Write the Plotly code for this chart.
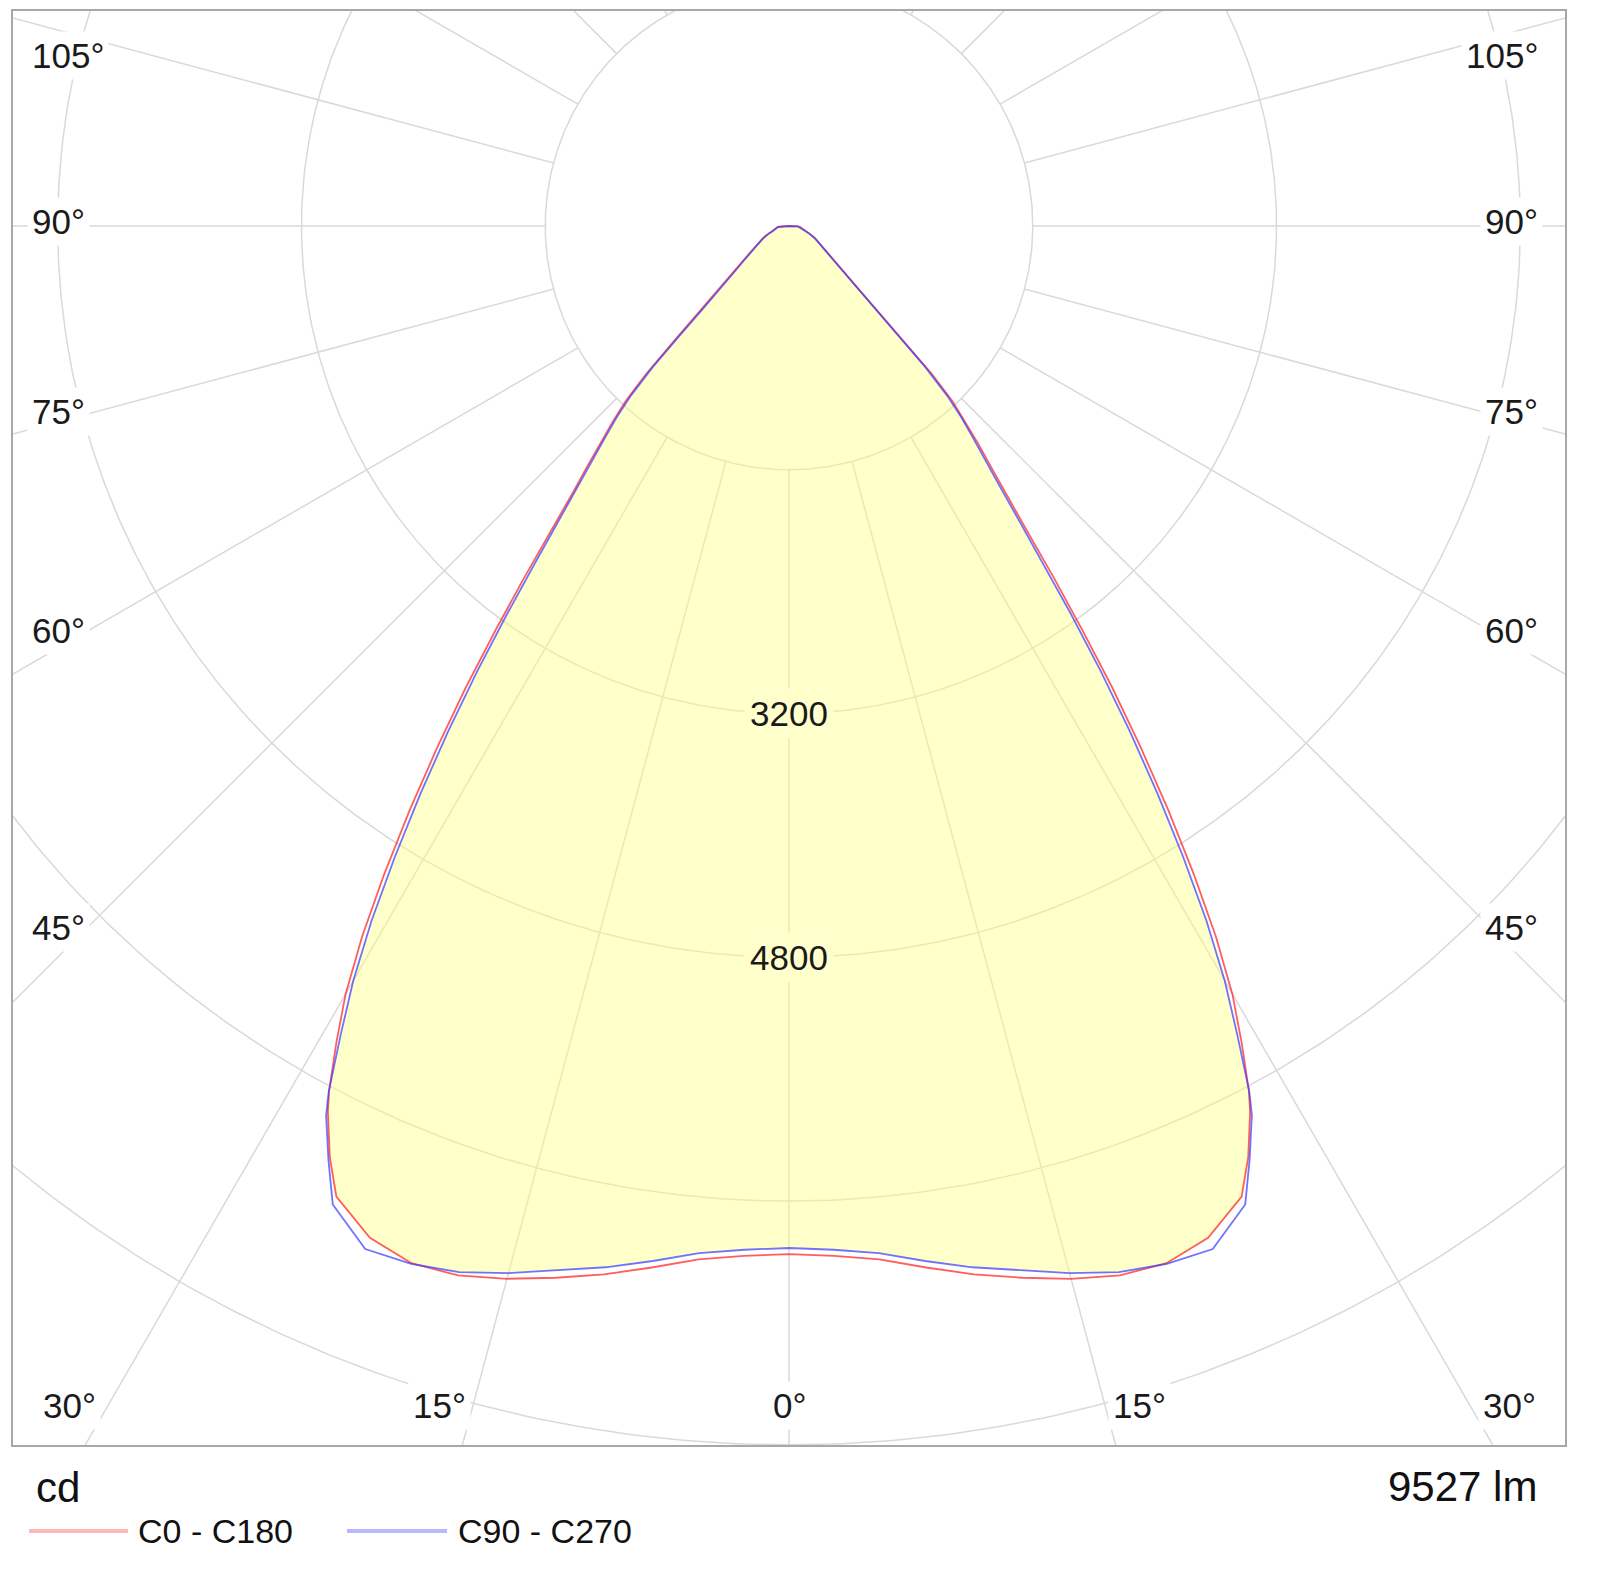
import numpy as np
import plotly.graph_objects as go

# ---------------- data ----------------
gamma_deg = [0, 2.5, 5, 7.5, 10, 12.5, 15, 17.5, 20, 22.5,
             25, 26.25, 27.5, 28,
             29, 30, 31, 32, 33, 34, 35, 36, 37, 38, 39, 40, 41, 42, 43, 44, 45, 46,
             47.5, 50,
             52.5, 55, 57.5, 60, 62.5, 65, 67.5, 70, 72.5, 75, 77.5, 80, 82.5, 85, 87.5, 90]
c0_c180 = [6748, 6766, 6808, 6895, 6987, 7071, 7154, 7222, 7245, 7188,
           7030, 6815, 6555, 6430,
           6128, 5820, 5440, 5010, 4570, 4130, 3700, 3270, 2880, 2530, 2260, 2060, 1890,
           1730, 1575, 1350, 1060, 830,
           640, 480,
           390, 322, 275, 240, 212, 188, 165, 142, 118, 102, 92, 85, 80, 74, 60, 0]
c90_c270 = [6708, 6726, 6768, 6852, 6940, 7020, 7115, 7200, 7250, 7268,
            7086, 6835, 6580, 6435,
            6070, 5720, 5320, 4880, 4440, 4000, 3570, 3150, 2770, 2450, 2200, 2010, 1840,
            1690, 1520, 1290, 1010, 800,
            620, 465,
            375, 310, 265, 232, 205, 182, 160, 137, 114, 98, 88, 82, 77, 71, 58, 0]
series_names = ["C0 - C180", "C90 - C270"]
grid_cd = [1600, 3200, 4800, 6400, 8000]
labelled_cd = [3200, 4800]
spoke_deg = list(range(0, 360, 15))
angle_labels = ["105°", "90°", "75°", "60°", "45°", "30°", "15°", "0°"]
flux_text = "9527 lm"
unit_text = "cd"

assert len(gamma_deg) == len(c0_c180) == len(c90_c270)

# ---------------- geometry of the page ----------------
FIG_W, FIG_H = 1584, 1553          # body margin of 8 px around
OFF = 8
FL, FT, FR, FB = 12, 10, 1566, 1446  # frame in page pixels
CX, CY = 789, 226                    # polar centre in page pixels
HALF_X = 5100.0
S = (FR - FL) / (2 * HALF_X)         # px per cd


def dx(X):
    return (X - CX) / S


def dy(Y):
    return (CY - Y) / S


def px(X):
    return (X - FL) / (FR - FL)


def py(Y):
    return (FB - Y) / (FB - FT)


FONT = "Liberation Sans, Arial, sans-serif"
GRID = "#d9d9d9"

fig = go.Figure()

# grid circles
t = np.linspace(0, 2 * np.pi, 721)
for r in grid_cd:
    fig.add_trace(go.Scatter(x=r * np.sin(t), y=-r * np.cos(t), mode="lines",
                             line=dict(color=GRID, width=1.5), hoverinfo="skip",
                             showlegend=False))
# spokes starting at the first circle
for a in spoke_deg:
    ar = np.radians(a)
    rr = np.array([grid_cd[0], 20000])
    fig.add_trace(go.Scatter(x=rr * np.sin(ar), y=-rr * np.cos(ar), mode="lines",
                             line=dict(color=GRID, width=1.5), hoverinfo="skip",
                             showlegend=False))

g = np.array(gamma_deg, dtype=float)
full_g = np.concatenate([-g[::-1], g[1:]])


def full(vals):
    v = np.array(vals, dtype=float)
    return np.concatenate([v[::-1], v[1:]])


def xy(vals):
    r = full(vals)
    a = np.radians(full_g)
    return r * np.sin(a), -r * np.cos(a)


# filled area (inner envelope of both planes)
fill_vals = np.minimum(np.array(c0_c180), np.array(c90_c270))
fx, fy = xy(fill_vals)
fig.add_trace(go.Scatter(x=fx, y=fy, mode="lines", fill="toself",
                         fillcolor="rgba(255,255,128,0.42)",
                         line=dict(width=0, color="rgba(0,0,0,0)"),
                         hoverinfo="skip", showlegend=False))

colors = ["rgba(255,40,40,0.75)", "rgba(60,60,255,0.72)"]
for vals, name, col in zip([c0_c180, c90_c270], series_names, colors):
    x, y = xy(vals)
    fig.add_trace(go.Scatter(x=x, y=y, mode="lines", name=name,
                             line=dict(color=col, width=1.8), showlegend=False))

annotations = []
# circle value labels
for r in labelled_cd:
    annotations.append(dict(x=0, y=-r, xref="x", yref="y", text=str(r),
                            showarrow=False, font=dict(family=FONT, size=35, color="#1a1a1a"),
                            bgcolor="#FFFFCC", borderpad=5, xanchor="center", yanchor="middle"))

# angle labels along the frame
side_y = [55, 221, 411, 630, 927]
for lab, Y in zip(angle_labels[:5], side_y):
    annotations.append(dict(x=dx(27), y=dy(Y), xref="x", yref="y", text=lab,
                            showarrow=False, font=dict(family=FONT, size=35, color="#1a1a1a"),
                            bgcolor="white", borderpad=4, xanchor="left", yanchor="middle"))
    annotations.append(dict(x=dx(1543), y=dy(Y), xref="x", yref="y", text=lab,
                            showarrow=False, font=dict(family=FONT, size=35, color="#1a1a1a"),
                            bgcolor="white", borderpad=4, xanchor="right", yanchor="middle"))
bottom_x = [(-720, "30°"), (-350, "15°"), (0, "0°"), (350, "15°"), (720, "30°")]
for ox, lab in bottom_x:
    annotations.append(dict(x=dx(CX + ox), y=dy(1405), xref="x", yref="y", text=lab,
                            showarrow=False, font=dict(family=FONT, size=35, color="#1a1a1a"),
                            bgcolor="white", borderpad=4, xanchor="center", yanchor="middle"))

# texts under the frame
annotations.append(dict(x=px(34), y=py(1487), xref="paper", yref="paper", text=unit_text,
                        showarrow=False, font=dict(family=FONT, size=42, color="#111"),
                        xanchor="left", yanchor="middle"))
annotations.append(dict(x=px(1539), y=py(1486), xref="paper", yref="paper", text=flux_text,
                        showarrow=False, font=dict(family=FONT, size=42, color="#111"),
                        xanchor="right", yanchor="middle"))

# legend
shapes = [dict(type="rect", xref="paper", yref="paper", x0=0, x1=1, y0=0, y1=1,
               line=dict(color="#a8a8a8", width=2), layer="above")]
legend_cols = ["#ffb8b8", "#b8b8ff"]
legend_x = [(29, 128, 136), (347, 447, 456)]
for (x0, x1, tx), name, col in zip(legend_x, series_names, legend_cols):
    shapes.append(dict(type="line", xref="paper", yref="paper", x0=px(x0), x1=px(x1),
                       y0=py(1531), y1=py(1531), line=dict(color=col, width=4)))
    annotations.append(dict(x=px(tx), y=py(1531), xref="paper", yref="paper", text=name,
                            showarrow=False, font=dict(family=FONT, size=34, color="#111"),
                            xanchor="left", yanchor="middle"))

fig.update_layout(
    width=FIG_W, height=FIG_H,
    margin=dict(l=FL - OFF, t=FT - OFF, r=FIG_W - (FR - OFF), b=FIG_H - (FB - OFF), pad=0),
    paper_bgcolor="white", plot_bgcolor="white",
    xaxis=dict(range=[-HALF_X, HALF_X], visible=False, fixedrange=True),
    yaxis=dict(range=[dy(FB), dy(FT)], visible=False, fixedrange=True),
    annotations=annotations, shapes=shapes, showlegend=False,
)

fig.write_html("out.html")
